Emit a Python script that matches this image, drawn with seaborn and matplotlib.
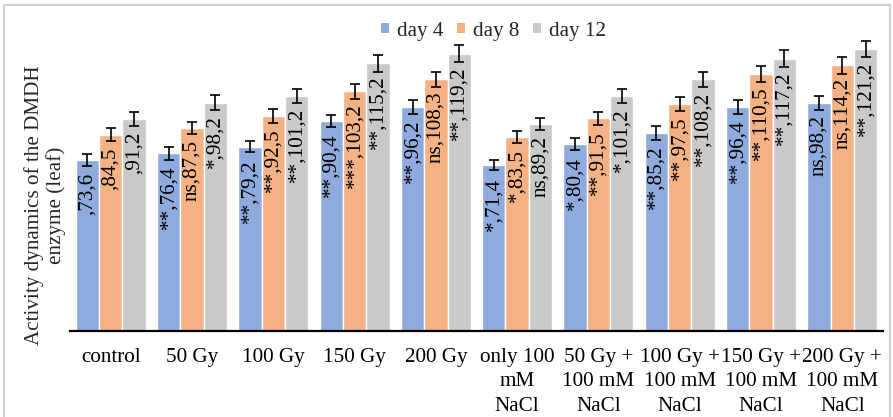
import numpy as np
import pandas as pd
import matplotlib
matplotlib.use("Agg")
import matplotlib.pyplot as plt
from matplotlib.patches import Rectangle
import seaborn as sns

# ---------------- data ----------------
categories = ["control", "50 Gy", "100 Gy", "150 Gy", "200 Gy",
              "only 100\nmM\nNaCl", "50 Gy +\n100 mM\nNaCl", "100 Gy +\n100 mM\nNaCl",
              "150 Gy +\n100 mM\nNaCl", "200 Gy +\n100 mM\nNaCl"]
days = ["day 4", "day 8", "day 12"]

day4 = [73.6, 76.4, 79.2, 90.4, 96.2, 71.4, 80.4, 85.2, 96.4, 98.2]
day8 = [84.5, 87.5, 92.5, 103.2, 108.3, 83.5, 91.5, 97.5, 110.5, 114.2]
day12 = [91.2, 98.2, 101.2, 115.2, 119.2, 89.2, 101.2, 108.2, 117.2, 121.2]

err4 = [2.6, 2.7, 2.4, 2.7, 3.0, 2.2, 2.6, 2.9, 3.0, 3.0]
err8 = [2.9, 2.6, 2.9, 3.2, 3.2, 2.7, 2.9, 3.0, 3.3, 3.6]
err12 = [2.9, 3.1, 3.0, 3.6, 3.6, 2.6, 3.1, 3.3, 3.6, 3.5]

sig4 = ["", "**", "**", "**", "**", "*", "*", "**", "**", "ns"]
sig8 = ["", "ns", "**", "***", "ns", "*", "**", "**", "**", "ns"]
sig12 = ["", "*", "**", "**", "**", "ns", "*", "**", "**", "**"]

colors = ["#8FAADC", "#F4B183", "#C9C9C9"]

errors = [err4, err8, err12]
sigs = [sig4, sig8, sig12]

df = pd.DataFrame({
    "treatment": categories * 3,
    "day": [d for d in days for _ in categories],
    "value": day4 + day8 + day12,
})

# ---------------- style ----------------
sns.set_style("white")
plt.rcParams["font.family"] = ["Liberation Serif", "DejaVu Serif"]
FS = 15.2

W, H = 893, 417
fig = plt.figure(figsize=(W / 100, H / 100), dpi=100)
ymax = 135
base_px = 331
ppu = 2.325
top_px = base_px - ymax * ppu
ax = fig.add_axes([70 / W, (H - base_px) / H, 813 / W, (base_px - top_px) / H])

sns.barplot(data=df, x="treatment", y="value", hue="day", hue_order=days,
            order=categories, palette=colors, saturation=1, width=0.86,
            errorbar=None, edgecolor="white", linewidth=1, ax=ax, legend=False)

ax.set_ylim(0, ymax)
ax.set_xlim(-0.5, len(categories) - 0.5)

bar_conts = list(ax.containers)
for ci, cont in enumerate(bar_conts):
    xs = [p.get_x() + p.get_width() / 2 for p in cont.patches]
    hs = [p.get_height() for p in cont.patches]
    ax.errorbar(xs, hs, yerr=errors[ci], fmt="none", ecolor="black",
                elinewidth=1.2, capsize=3.6, capthick=1.2, zorder=5)
    for x, h, s in zip(xs, hs, sigs[ci]):
        lab = s + "," + f"{h:.1f}".replace(".", ",")
        ax.annotate(lab, (x, h), xytext=(0, -9), textcoords="offset points",
                    rotation=90, ha="center", va="top", fontsize=FS, color="black")

for side in ["left", "right", "top"]:
    ax.spines[side].set_visible(False)
ax.spines["bottom"].set_color("black")
ax.spines["bottom"].set_linewidth(1.6)
ax.set_yticks([])
ax.set_xlabel("")
ax.set_ylabel("")
ax.tick_params(axis="x", length=0, pad=12, labelsize=FS, colors="black")
for t in ax.get_xticklabels():
    t.set_linespacing(1.4)

handles = [Rectangle((0, 0), 1, 1, facecolor=c, edgecolor="none") for c in colors]
ax.legend(handles, days, loc="center", bbox_to_anchor=(0.521, 0.955), ncol=3,
          frameon=False, fontsize=FS, handlelength=0.35, handleheight=0.35,
          handletextpad=0.4, columnspacing=0.65)

fig.text(45 / W, 1 - 205 / H, "Activity dynamics of the DMDH\nenzyme (leaf)",
         rotation=90, ha="center", va="center", multialignment="center",
         fontsize=FS, linespacing=1.2)

fig.patches.append(Rectangle((4 / W, -0.02), 886 / W, 1 - 5 / H + 0.02,
                             transform=fig.transFigure, fill=False,
                             edgecolor="#D0D0D0", linewidth=1.5))

fig.savefig("out.png", dpi=100)
